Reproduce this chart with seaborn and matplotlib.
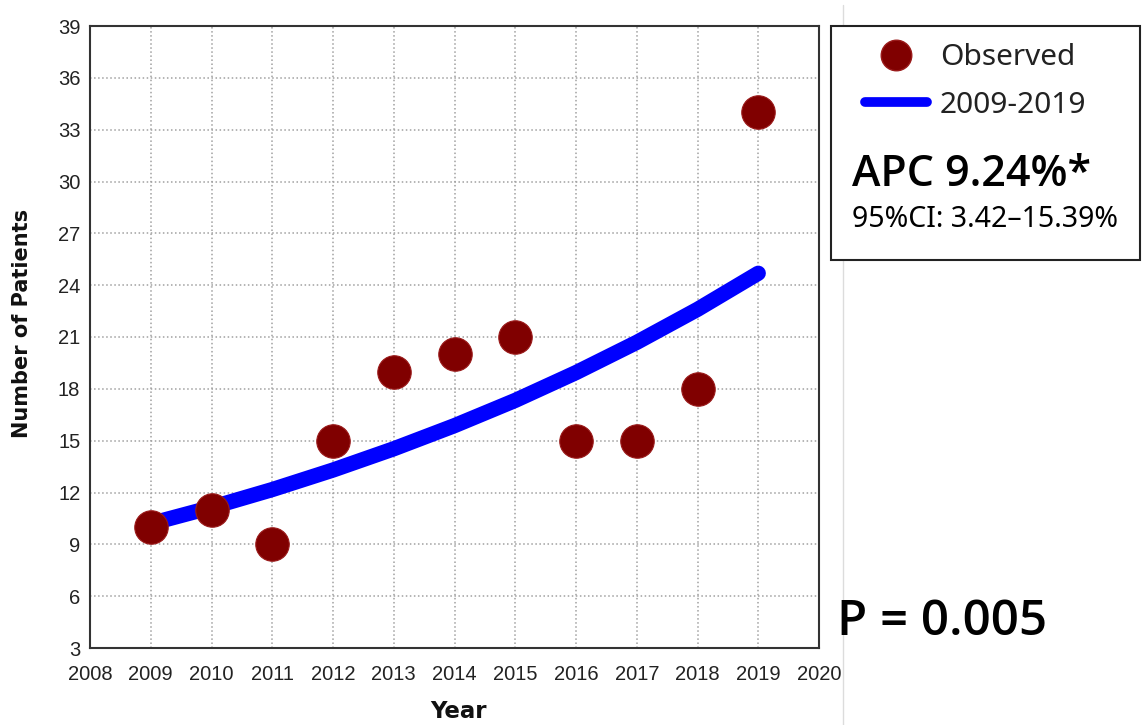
import matplotlib
matplotlib.use("Agg")
import matplotlib.pyplot as plt
import seaborn as sns
import pandas as pd
from matplotlib.lines import Line2D
from matplotlib.patches import Rectangle

years = [2009, 2010, 2011, 2012, 2013, 2014, 2015, 2016, 2017, 2018, 2019]
observed = [10, 11, 9, 15, 19, 20, 21, 15, 15, 18, 34]
fitted = [10.2, 11.14, 12.17, 13.30, 14.53, 15.87, 17.33, 18.94, 20.69, 22.60, 24.69]
xticks = list(range(2008, 2021))
yticks = list(range(3, 40, 3))
legend_labels = ["Observed", "2009-2019"]
apc_text = "APC 9.24%*"
ci_text = "95%CI: 3.42\u201315.39%"
p_text = "P = 0.005"

df = pd.DataFrame({"Year": years, "Observed": observed, "Fitted": fitted})

sns.set_theme(style="white")
plt.rcParams["font.family"] = ["DejaVu Sans"]

W, H = 1142, 725
fig = plt.figure(figsize=(W / 100, H / 100), dpi=100)
ax = fig.add_axes([90 / W, 1 - 648 / H, (819 - 90) / W, (648 - 26) / H])

def fx(x):
    return x / W

def fy(y):
    return 1 - y / H

# separator line in the background
fig.add_artist(Line2D([fx(843), fx(843)], [fy(5), fy(725)], color="#dcdcdc", lw=1, zorder=0))

sns.lineplot(data=df, x="Year", y="Fitted", ax=ax, color="#0000ff", lw=11,
             solid_capstyle="round", zorder=3)
sns.scatterplot(data=df, x="Year", y="Observed", ax=ax, color="#800000",
                s=580, edgecolor="#9a1a1a", linewidth=0.8, zorder=4)

ax.set_xlim(2008, 2020)
ax.set_ylim(3, 39)
ax.set_xticks(xticks)
ax.set_yticks(yticks)
tick_font = dict(family=["Liberation Sans"], size=14.5, color="#222222")
ax.set_xticklabels([str(t) for t in xticks], **tick_font)
ax.set_yticklabels([str(t) for t in yticks], **tick_font)
ax.tick_params(axis="x", length=0, pad=12)
ax.tick_params(axis="y", length=0, pad=7)
ax.grid(True, linestyle=":", color="#a0a0a0", lw=1.1)
for s in ax.spines.values():
    s.set_color("#333333")
    s.set_linewidth(1.5)
    s.set_visible(True)
ax.set_xlabel("")
ax.set_ylabel("")
fig.text(fx(458), fy(712), "Year", fontsize=16.5, fontweight="bold", color="#111111",
         ha="center", va="center")
fig.text(fx(22), fy(323), "Number of Patients", fontsize=15, fontweight="bold",
         color="#111111", ha="center", va="center", rotation=90)

# legend box
fig.add_artist(Rectangle((fx(831), fy(260)), (1140 - 831) / W, (260 - 26) / H,
                         transform=fig.transFigure, facecolor="white",
                         edgecolor="#222222", lw=1.5, zorder=1))

h1 = Line2D([], [], marker="o", linestyle="none", markersize=22,
            markerfacecolor="#800000", markeredgecolor="#9a1a1a")
h2 = Line2D([], [], color="#0000ff", lw=7)
leg = fig.legend([h1, h2], legend_labels, loc="upper left",
                 bbox_to_anchor=(fx(865), fy(43)), frameon=False,
                 prop=dict(family=["Noto Sans", "DejaVu Sans"], size=21.5),
                 handlelength=2.07, handletextpad=0.43, labelspacing=0.63,
                 borderaxespad=0, borderpad=0)
leg.set_zorder(2)
for t in leg.get_texts():
    t.set_color("#222222")

fig.text(fx(852), fy(174), apc_text, fontsize=31, family=["Open Sans", "Noto Sans", "DejaVu Sans"],
         fontweight="semibold", va="center", ha="left", color="black", zorder=3)
fig.text(fx(852), fy(220), ci_text, fontsize=20.5, family=["Noto Sans", "DejaVu Sans"],
         va="center", ha="left", color="black", zorder=3)
fig.text(fx(837), fy(635), p_text, fontsize=35.5, family=["Open Sans", "Noto Sans", "DejaVu Sans"],
         fontweight="semibold", va="baseline", ha="left", color="black", zorder=3)

fig.savefig("out.png", dpi=100, facecolor="white")
